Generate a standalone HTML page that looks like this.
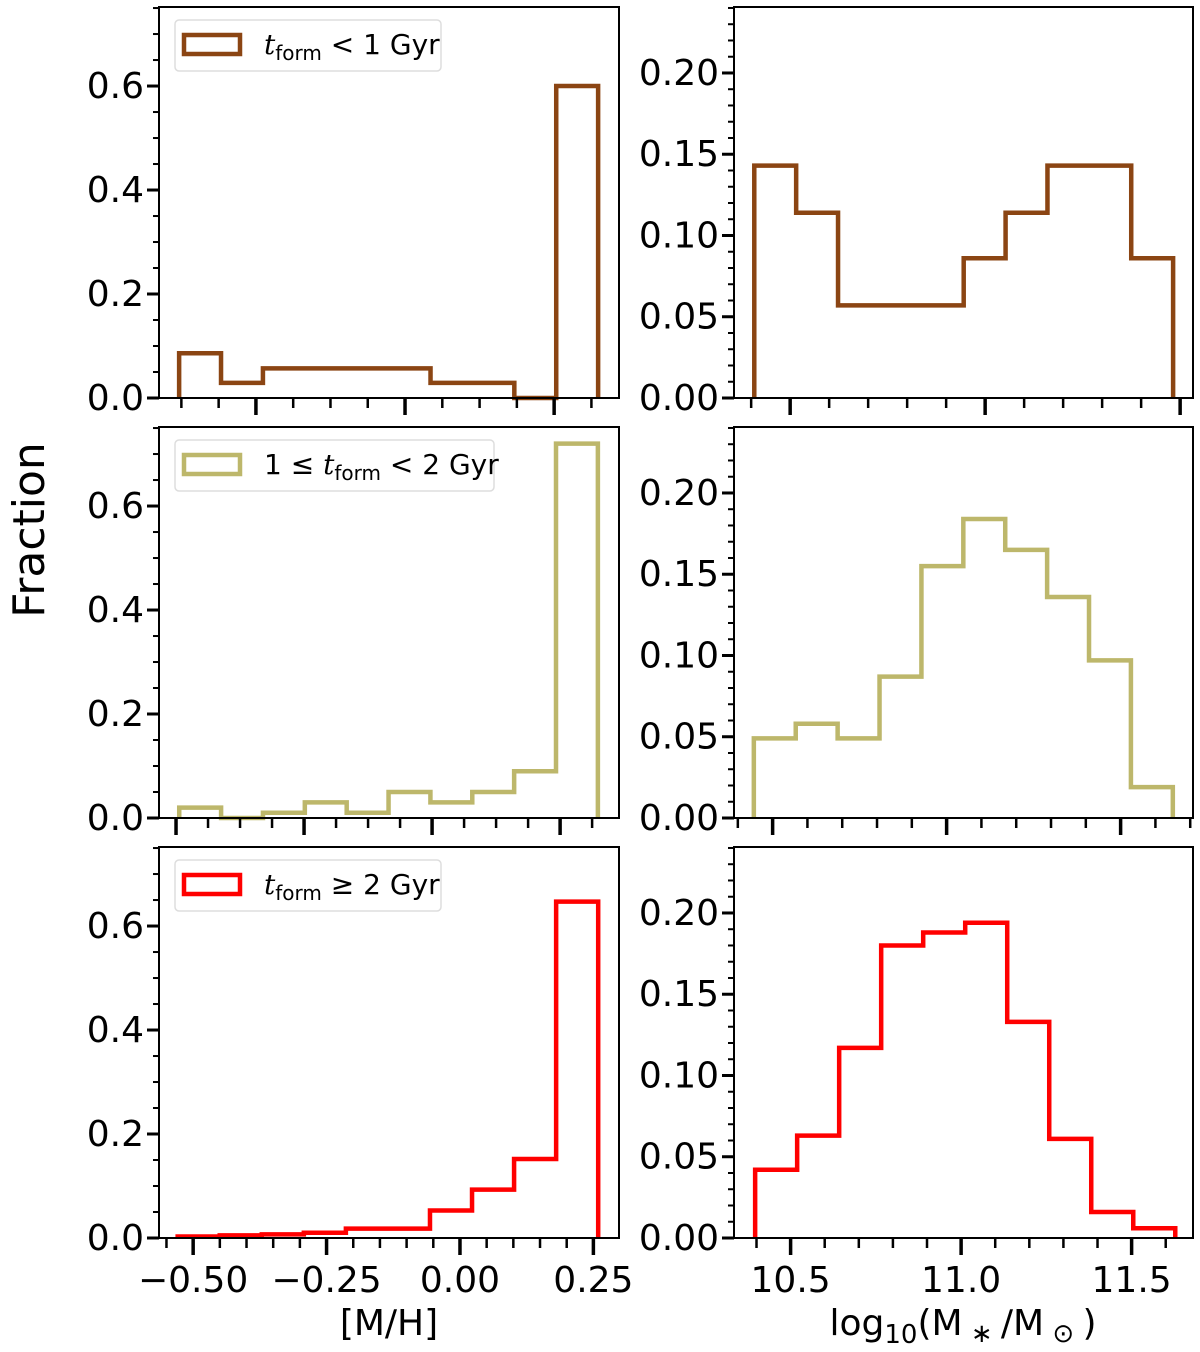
<!DOCTYPE html>
<html><head><meta charset="utf-8"><style>
html,body{margin:0;padding:0;background:#fff}
svg{display:block;font-family:"DejaVu Sans","Liberation Sans",sans-serif}
</style></head><body>
<svg id="fig" width="1200" height="1352" viewBox="0 0 1200 1352" xmlns="http://www.w3.org/2000/svg">
<text transform="translate(44,530) rotate(-90)" text-anchor="middle" font-size="44">Fraction</text>
<text x="389" y="1335" text-anchor="middle" font-size="36">[M/H]</text>
<text x="963" y="1335" text-anchor="middle" font-size="36">log<tspan font-size="26" dy="8">10</tspan><tspan dy="-8">(M</tspan><tspan font-size="26" dy="7"> ∗ </tspan><tspan dy="-7">/M</tspan><tspan font-size="26" dy="7"> ⊙ </tspan><tspan dy="-7">)</tspan></text>
</svg>
<script>
// ---- data ----
const colors = ['#8B4513', '#BDB76B', '#FF0000'];
const metalTop = [0.086, 0.029, 0.057, 0.057, 0.057, 0.057, 0.029, 0.029, 0.0, 0.60];
const metalMid = [0.02, 0.0, 0.01, 0.03, 0.01, 0.05, 0.03, 0.05, 0.09, 0.72];
const metalBot = [0.003, 0.005, 0.007, 0.010, 0.018, 0.018, 0.053, 0.093, 0.152, 0.647];
const massTop = [0.143, 0.114, 0.057, 0.057, 0.057, 0.086, 0.114, 0.143, 0.143, 0.086];
const massMid = [0.049, 0.058, 0.049, 0.087, 0.155, 0.184, 0.165, 0.136, 0.097, 0.019];
const massBot = [0.042, 0.063, 0.117, 0.180, 0.188, 0.194, 0.133, 0.061, 0.016, 0.006];
const metalBinRange = [[-0.303, 0.259], [-0.395, 0.259], [-0.529, 0.259]];
const massBinRange = [[10.408, 11.482], [10.446, 11.650], [10.396, 11.628]];
const metalXDomain = [[-0.330, 0.287], [-0.4266, 0.292], [-0.564, 0.298]];
const massXDomain = [[10.356, 11.533], [10.389, 11.708], [10.334, 11.68]];
const metalMajorStep = [0.2, 0.2, 0.25];
const leftYTicks = ['0.0', '0.2', '0.4', '0.6'];
const rightYTicks = ['0.00', '0.05', '0.10', '0.15', '0.20'];
const bottomLeftXTicks = ['−0.50', '−0.25', '0.00', '0.25'];
const bottomRightXTicks = ['10.5', '11.0', '11.5'];
const legendLabels = [
  '<tspan font-style="italic" font-family="DejaVu Serif, serif">t</tspan><tspan font-size="20" dy="6">form</tspan><tspan dy="-6"> &lt; 1 Gyr</tspan>',
  '1 ≤ <tspan font-style="italic" font-family="DejaVu Serif, serif">t</tspan><tspan font-size="20" dy="6">form</tspan><tspan dy="-6"> &lt; 2 Gyr</tspan>',
  '<tspan font-style="italic" font-family="DejaVu Serif, serif">t</tspan><tspan font-size="20" dy="6">form</tspan><tspan dy="-6"> ≥ 2 Gyr</tspan>'
];
const leftYMax = 0.752, rightYMax = 0.2406;

// ---- layout ----
const NS = 'http://www.w3.org/2000/svg';
const svg = document.getElementById('fig');
const rowTop = [7, 427, 847], rowH = 391;
const colX = [[159, 619], [734, 1193]];
function el(tag, attrs, parent) {
  const e = document.createElementNS(NS, tag);
  for (const k in attrs) e.setAttribute(k, attrs[k]);
  (parent || svg).appendChild(e);
  return e;
}
function scale(d0, d1, r0, r1) { return v => r0 + (v - d0) / (d1 - d0) * (r1 - r0); }

function panel(row, col, values, binRange, xDom, yMax, opts) {
  const g = el('g', {});
  
  
  const [x0, x1] = colX[col], y0 = rowTop[row], y1 = y0 + rowH;
  const sx = scale(xDom[0], xDom[1], x0, x1);
  const sy = scale(0, yMax, y1, y0);
  const n = values.length, w = (binRange[1] - binRange[0]) / n;
  let d = 'M' + sx(binRange[0]) + ',' + sy(0);
  for (let i = 0; i < n; i++) {
    const a = binRange[0] + i * w, b = a + w;
    d += ' L' + sx(a) + ',' + sy(values[i]) + ' L' + sx(b) + ',' + sy(values[i]);
  }
  d += ' L' + sx(binRange[1]) + ',' + sy(0);
  const p = el('path', { d: d, fill: 'none', stroke: colors[row], 'stroke-width': 4.5, 'stroke-linejoin': 'miter' }, g);
  
  
  const ymaj = opts.yMajor, ymin = opts.yMinor;
  for (let v = 0; v <= yMax + 1e-9; v += ymin) {
    const isMaj = Math.abs(v / ymaj - Math.round(v / ymaj)) < 1e-6;
    el('line', { x1: x0, x2: x0 - (isMaj ? 12 : 6), y1: sy(v), y2: sy(v), stroke: '#000', 'stroke-width': isMaj ? 3 : 2 }, g);
  }
  opts.yLabels.forEach((t, i) => {
    const tx = el('text', { x: x0 - 15, y: sy(i * ymaj) + 12, 'text-anchor': 'end', 'font-size': 36 }, g);
    tx.textContent = t;
    
    
  });
  const xmaj = opts.xMajor, xmin = opts.xMinor;
  const startMin = Math.ceil(xDom[0] / xmin - 1e-9) * xmin;
  for (let v = startMin; v <= xDom[1] + 1e-9; v += xmin) {
    const isMaj = Math.abs(v / xmaj - Math.round(v / xmaj)) < 1e-6;
    el('line', { x1: sx(v), x2: sx(v), y1: y1, y2: y1 + (isMaj ? 17 : 10), stroke: '#000', 'stroke-width': isMaj ? 3.5 : 2.5 }, g);
  }
  if (opts.xLabels) {
    opts.xLabels.forEach(([v, t]) => {
      const tx = el('text', { x: sx(v), y: y1 + 54, 'text-anchor': 'middle', 'font-size': 36 }, g);
      tx.textContent = t;
      
      
    });
  }
  const fr = el('rect', { x: x0, y: y0, width: x1 - x0, height: rowH, fill: 'none', stroke: '#000', 'stroke-width': 2 }, g);
  
  
  if (opts.legend) {
    const lg = el('g', {}, g);
    
    
    const lw = row === 1 ? 319 : 266;
    el('rect', { x: 175, y: y0 + 13, width: lw, height: 51, rx: 4, fill: '#fff', stroke: '#ddd', 'stroke-width': 1.5 }, lg);
    el('rect', { x: 184, y: y0 + 28, width: 56, height: 19, fill: 'none', stroke: colors[row], 'stroke-width': 4.5 }, lg);
    const t = el('text', { x: 264, y: y0 + 47, 'font-size': 28 }, lg);
    t.innerHTML = legendLabels[row];
  }
}
const metalVals = [metalTop, metalMid, metalBot];
const massVals = [massTop, massMid, massBot];
for (let r = 0; r < 3; r++) {
  panel(r, 0, metalVals[r], metalBinRange[r], metalXDomain[r], leftYMax, {
    yMajor: 0.2, yMinor: 0.05, yLabels: leftYTicks, xMajor: metalMajorStep[r], xMinor: 0.05,
    xLabels: r === 2 ? bottomLeftXTicks.map((t, i) => [-0.5 + i * 0.25, t]) : null, legend: true
  });
  panel(r, 1, massVals[r], massBinRange[r], massXDomain[r], rightYMax, {
    yMajor: 0.05, yMinor: 0.01, yLabels: rightYTicks, xMajor: 0.5, xMinor: 0.1,
    xLabels: r === 2 ? bottomRightXTicks.map((t, i) => [10.5 + i * 0.5, t]) : null, legend: false
  });
}
</script>
</body></html>
